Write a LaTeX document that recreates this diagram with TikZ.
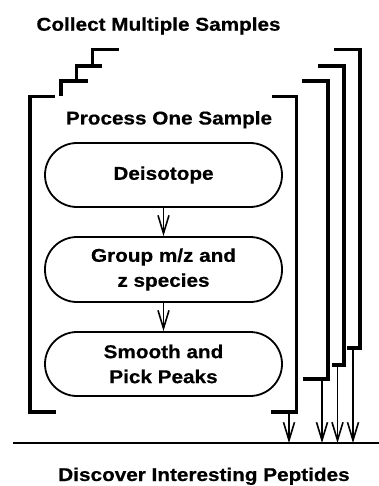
\documentclass[tikz,border=0pt]{standalone}
\usepackage{fontspec}
\setmainfont{Liberation Sans}[FakeStretch=1.12, FakeBold=0.6]
\usetikzlibrary{arrows.meta}
\begin{document}
\begin{tikzpicture}[x=1pt,y=-1pt,
  lbl/.style={font=\fontsize{18.5}{25}\selectfont\bfseries, inner sep=0pt},
  stepbox/.style={draw, line width=1.8pt, rounded corners=32pt, minimum width=237pt, minimum height=64pt, align=center, font=\fontsize{18.5}{25}\selectfont\bfseries, inner sep=0pt},
  bracket/.style={line width=3.3pt},
  flow/.style={line width=1.6pt, -{Straight Barb[length=18pt,width=11pt]}},
  base/.style={line width=1.6pt}]
\useasboundingbox (0,0) rectangle (379,486);
% titles
\node[lbl, anchor=base] (title) at (158.5,30.7) {Collect Multiple Samples};
\node[lbl, anchor=base] (proc) at (169,124.5) {Process One Sample};
\node[lbl, anchor=base] (disc) at (204,481) {Discover Interesting Peptides};
% boxes
\node[stepbox] (deiso) at (163.5,175) {Deisotope};
\node[stepbox, minimum height=65pt] (group) at (163.5,269.5) {Group m/z and\\z species};
\node[stepbox] (smooth) at (163.5,364) {Smooth and\\Pick Peaks};
\draw[flow] (deiso) -- (group);
\draw[flow] (group) -- (smooth);
% front bracket
\draw[bracket] (55,96.5) -- (30,96.5) -- (30,412) -- (56,412);
\draw[bracket] (272,96.5) -- (296.5,96.5) -- (296.5,412) -- (271,412);
% stacked samples (left stairs)
\draw[bracket] (61,96.5) -- (61,81) -- (88,81);
\draw[bracket] (76.5,81) -- (76.5,66) -- (102,66);
\draw[bracket] (92.5,66) -- (92.5,49.5) -- (119,49.5);
% stacked samples (right brackets)
\draw[bracket] (302,81) -- (328,81) -- (328,379) -- (303,379);
\draw[bracket] (318,66) -- (344,66) -- (344,365) -- (332,365);
\draw[bracket] (334,49.5) -- (360,49.5) -- (360,348) -- (347,348);
% baseline
\coordinate (bl) at (13,443);
\coordinate (br) at (379,443);
\draw[base] (bl) -- (br);
% outputs
\coordinate (o1) at (289,412);
\coordinate (o2) at (322,379);
\coordinate (o3) at (337.5,365);
\coordinate (o4) at (353,348);
\foreach \o in {o1,o2,o3,o4}
  \draw[flow] (\o) -- (\o |- bl);
\end{tikzpicture}
\end{document}
